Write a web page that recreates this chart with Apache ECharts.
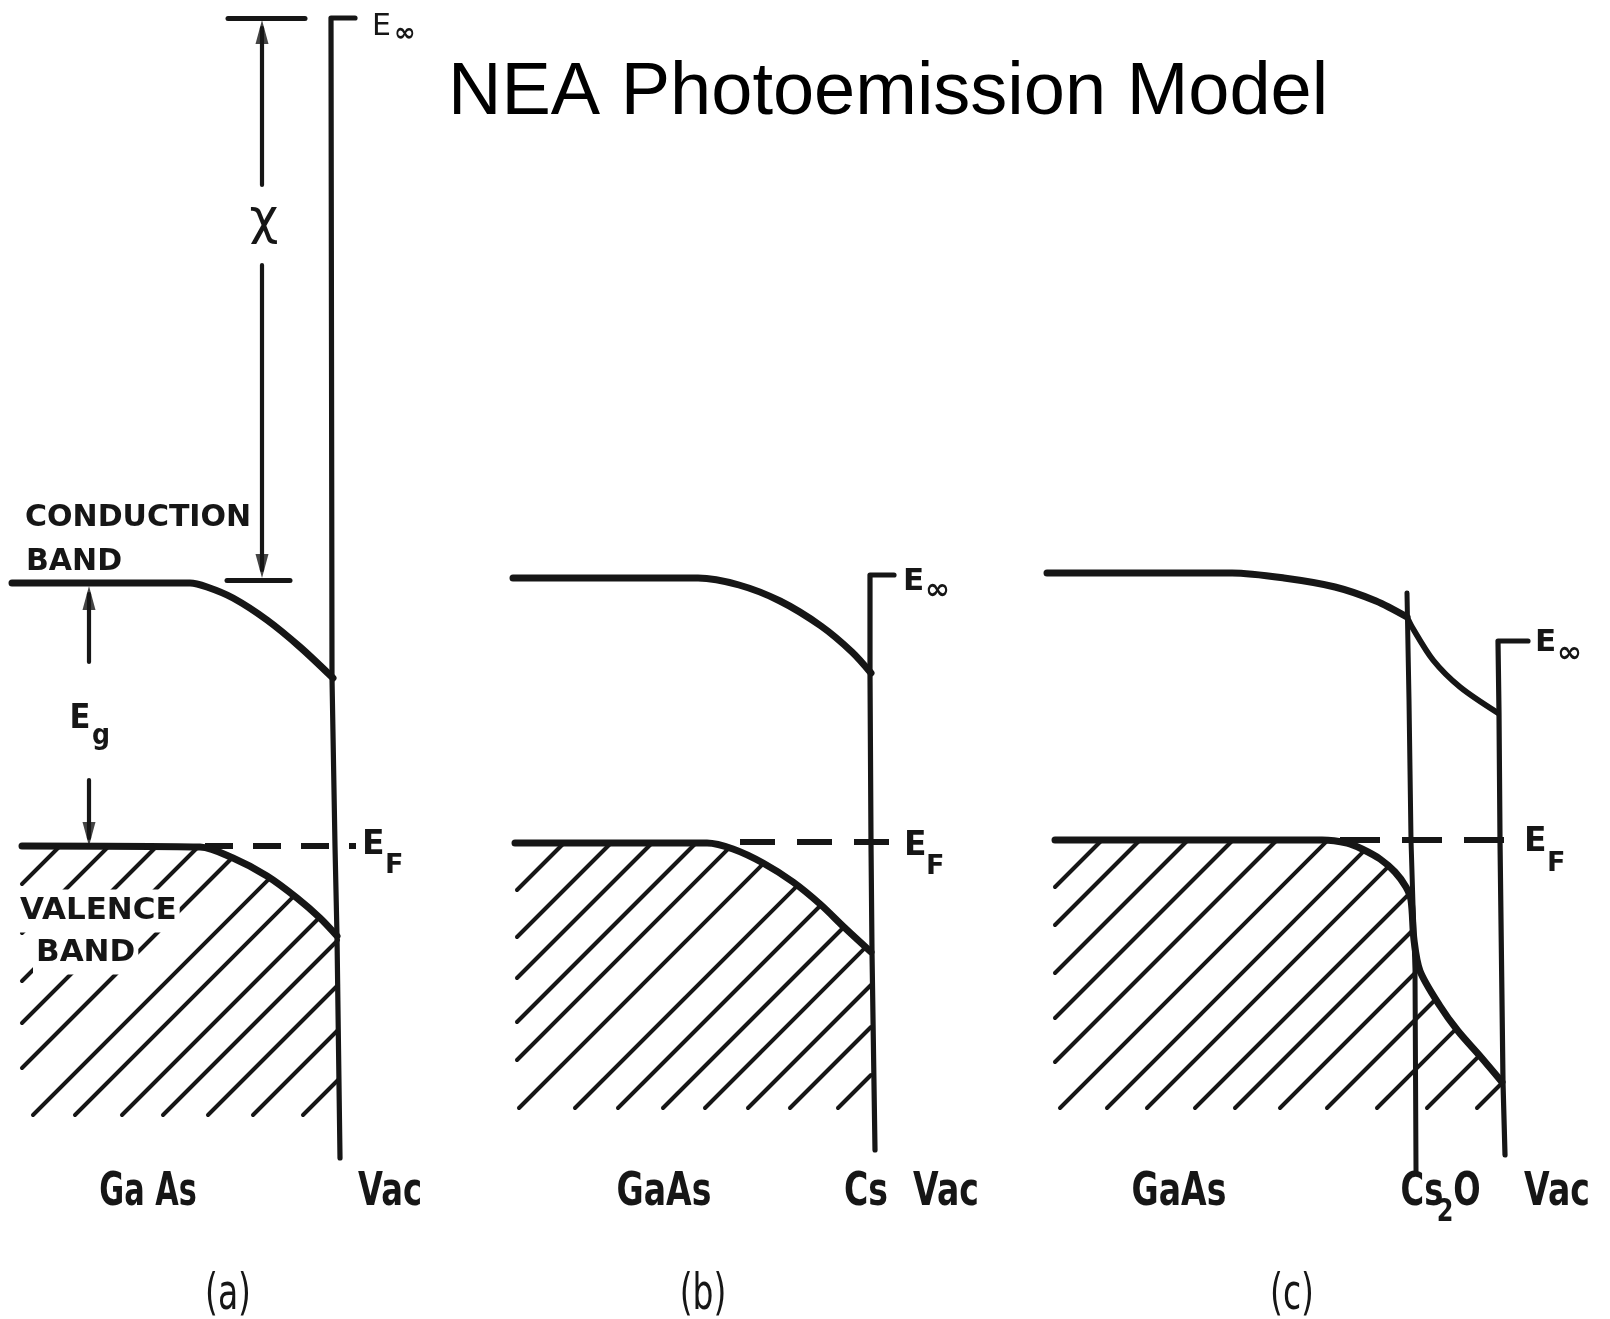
<!DOCTYPE html>
<html>
<head>
<meta charset="utf-8">
<title>NEA Photoemission Model</title>
<script src="https://cdn.jsdelivr.net/npm/echarts@6/dist/echarts.min.js"></script>
<style>
  html, body { margin: 0; padding: 0; background: #fff; }
  #chart { width: 1610px; height: 1319px; }
</style>
</head>
<body>
<div id="chart"></div>
<script>
// band edges, in picture units (x right, y down)
// (a) GaAs / vacuum
var cbA = [[12,583],[190,583],[207,587],[233,598],[267,620],[300,647],[333,678]];
var vbA = [[22,846],[200,847],[233,858],[267,876],[297,898],[320,918],[337,936]];
var vacA = [[355,18],[331,18],[332,678],[335,846],[337,936],[340,1158]];
var efA = [[205,846],[356,846]];
// (b) GaAs / Cs / vacuum
var cbB = [[513,578],[698,578],[739,585],[780,601],[821,626],[852,652],[871,673]];
var vbB = [[515,843],[707,843],[733,849],[763,863],[793,882],[820,904],[845,928],[871,952]];
var vacB = [[894,575],[870,575],[870,673],[871,843],[872,952],[875,1150]];
var efB = [[740,842],[894,842]];
// (c) GaAs / Cs2O / vacuum
var cbC = [[1047,573],[1232,573],[1284,578],[1335,587],[1376,601],[1407,617]];
var cbCs2O = [[1407,617],[1412,627],[1433,660],[1460,687],[1498,713]];
var vbC = [[1055,840],[1322,840],[1347,843],[1362,849],[1380,859],[1395,872],[1406,887],[1411,900],
           [1414,940],[1420,971],[1440,1006],[1458,1031],[1480,1056],[1502,1082]];
var cs2oC = [[1407,593],[1409,700],[1411,840],[1413,905],[1415,970],[1416,1171]];
var vacC = [[1528,641],[1498,641],[1499,713],[1500,840],[1503,1082],[1505,1155]];
var efC = [[1340,840],[1512,840]];

// hatching: where each stroke meets the bottom edge of the valence band
var hatchA = [-209,-160,-112,-70,-25,33,75,122,163,208,253,303];
var hatchB = [299,346,387,431,469,519,575,618,663,705,748,790,838];
var hatchC = [834,872,920,965,1009,1060,1107,1147,1195,1235,1280,1327,1377,1427,1477];

// the chi and Eg dimension markers
var chiBars = [[[228,18],[305,18]], [[227,580],[290,580]]];
var shafts = [[[262,185],[262,28]], [[262,265],[262,570]], [[89,594],[89,662]], [[89,780],[89,838]]];
var arrowTips = [[262,32,0],[262,566,180],[89,598,0],[89,834,180]];

var ink = '#161616';

// clip 45-degree strokes to the area under a band edge
function hatch(cs, left, bottom, right, top) {
  var segs = [];
  cs.forEach(function (c) {
    var x0 = Math.max(c, left), y0 = bottom - (x0 - c);
    var tEnd = right - x0;
    for (var i = 0; i < top.length - 1; i++) {
      var p = top[i], q = top[i + 1];
      var ex = q[0] - p[0], ey = q[1] - p[1];
      var den = ex + ey;
      if (Math.abs(den) < 1e-9) continue;
      var u = (x0 + y0 - p[0] - p[1]) / den;
      if (u < 0 || u > 1) continue;
      var t = p[0] - x0 + u * ex;
      if (t > 0 && t < tEnd) tEnd = t;
    }
    if (tEnd > 2) segs.push({ coords: [[x0, y0], [x0 + tEnd, y0 - tEnd]] });
  });
  return segs;
}

function band(data, w, smooth) {
  return {
    type: 'line', data: data, symbol: 'none', smooth: smooth ? 0.3 : false,
    silent: true, z: 4,
    lineStyle: { color: ink, width: w, cap: 'round', join: 'round' }
  };
}
function dashed(data, dash) {
  return {
    type: 'line', data: data, symbol: 'none', silent: true, z: 3,
    lineStyle: { color: ink, width: 6, type: dash, cap: 'butt' }
  };
}

var sans = "'DejaVu Sans', sans-serif";
// [text, x, y, fontSize, weight, align, scaleX, whiteBox]
var labels = [
  ['CONDUCTION', 25, 518, 30, 'bold', 'left', 1, false],
  ['BAND', 26, 562, 30, 'bold', 'left', 1, false],
  ['VALENCE', 17, 911, 31, 'bold', 'left', 1, true],
  ['BAND', 33, 953, 31, 'bold', 'left', 1, true],
  ['χ', 264, 221, 50, 'normal', 'center', 1, false],
  ['E', 80, 719, 34, 'bold', 'center', 0.9, false],
  ['g', 101, 737, 28, 'bold', 'center', 0.9, false],
  ['E', 372, 27, 30, 'normal', 'left', 1, false],
  ['∞', 394, 34, 26, 'bold', 'left', 1, false],
  ['E', 903, 582, 31, 'bold', 'left', 1, false],
  ['∞', 925, 591, 30, 'bold', 'left', 1, false],
  ['E', 1535, 643, 31, 'bold', 'left', 1, false],
  ['∞', 1557, 654, 30, 'bold', 'left', 1, false],
  ['E', 362, 845, 33, 'bold', 'left', 1, false],
  ['F', 385, 866, 27, 'bold', 'left', 1, false],
  ['E', 904, 846, 33, 'bold', 'left', 1, false],
  ['F', 926, 867, 27, 'bold', 'left', 1, false],
  ['E', 1524, 842, 33, 'bold', 'left', 1, false],
  ['F', 1547, 864, 27, 'bold', 'left', 1, false],
  ['Ga As', 148, 1193, 46, 'bold', 'center', 0.66, false],
  ['Vac', 390, 1193, 46, 'bold', 'center', 0.7, false],
  ['GaAs', 664, 1193, 46, 'bold', 'center', 0.72, false],
  ['Cs', 866, 1193, 46, 'bold', 'center', 0.72, false],
  ['Vac', 946, 1193, 46, 'bold', 'center', 0.72, false],
  ['GaAs', 1179, 1193, 46, 'bold', 'center', 0.72, false],
  ['Cs', 1422, 1193, 46, 'bold', 'center', 0.7, false],
  ['2', 1445, 1213, 32, 'bold', 'center', 0.75, false],
  ['O', 1467, 1193, 46, 'bold', 'center', 0.7, false],
  ['Vac', 1557, 1193, 46, 'bold', 'center', 0.72, false],
  ['(a)', 228, 1296, 50, 'normal', 'center', 0.66, false],
  ['(b)', 703, 1296, 50, 'normal', 'center', 0.66, false],
  ['(c)', 1292, 1296, 50, 'normal', 'center', 0.66, false]
];

var chart = echarts.init(document.getElementById('chart'));
var option = {
  backgroundColor: '#fff',
  animation: false,
  title: {
    text: 'NEA Photoemission Model',
    left: 443, top: 52,
    textStyle: { fontFamily: "'Liberation Sans', Arial, sans-serif", fontSize: 74, fontWeight: 'normal', color: '#000' }
  },
  grid: { left: 0, right: 0, top: 0, bottom: 0 },
  xAxis: { type: 'value', min: 0, max: 1610, show: false },
  yAxis: { type: 'value', min: 0, max: 1319, inverse: true, show: false },
  series: [
    {
      type: 'lines', coordinateSystem: 'cartesian2d', silent: true, z: 2,
      lineStyle: { color: ink, width: 4, opacity: 1, cap: 'round' },
      data: hatch(hatchA, 22, 1115, 338, vbA)
        .concat(hatch(hatchB, 517, 1108, 871, vbB))
        .concat(hatch(hatchC, 1055, 1108, 1502, vbC))
    },
    band(cbA, 7, true), band(vbA, 7, true), band(vacA, 5.2, false),
    band(cbB, 7, true), band(vbB, 7, true), band(vacB, 5.2, false),
    band(cbC, 7, true), band(cbCs2O, 5.8, true), band(vbC, 7, true),
    band(cs2oC, 5, false), band(vacC, 5.2, false),
    dashed(efA, [28, 20]), dashed(efB, [35, 22]), dashed(efC, [40, 22]),
    {
      type: 'lines', coordinateSystem: 'cartesian2d', silent: true, z: 4,
      lineStyle: { color: ink, width: 5, opacity: 1, cap: 'round' },
      data: chiBars.map(function (s) { return { coords: s }; })
    },
    {
      type: 'lines', coordinateSystem: 'cartesian2d', silent: true, z: 4,
      lineStyle: { color: ink, width: 4.2, opacity: 1, cap: 'round' },
      data: shafts.map(function (s) { return { coords: s }; })
    },
    {
      type: 'scatter', silent: true, z: 5, symbol: 'triangle',
      symbolSize: [13, 24],
      itemStyle: { color: ink },
      data: arrowTips.map(function (a) { return { value: [a[0], a[1]], symbolRotate: a[2] }; })
    }
  ]
};
chart.setOption(option);

// text marks, placed through the same axes
var graphics = labels.map(function (l) {
  var p = chart.convertToPixel({ gridIndex: 0 }, [l[1], l[2]]);
  return {
    type: 'text', x: p[0], y: p[1], scaleX: l[6], z: 10, silent: true,
    style: {
      text: l[0], fontSize: l[3], fontWeight: l[4], fontFamily: sans,
      fill: ink, align: l[5], verticalAlign: 'middle',
      backgroundColor: l[7] ? '#fff' : null, padding: l[7] ? [6, 3] : 0
    }
  };
});
chart.setOption({ graphic: graphics });
</script>
</body>
</html>
